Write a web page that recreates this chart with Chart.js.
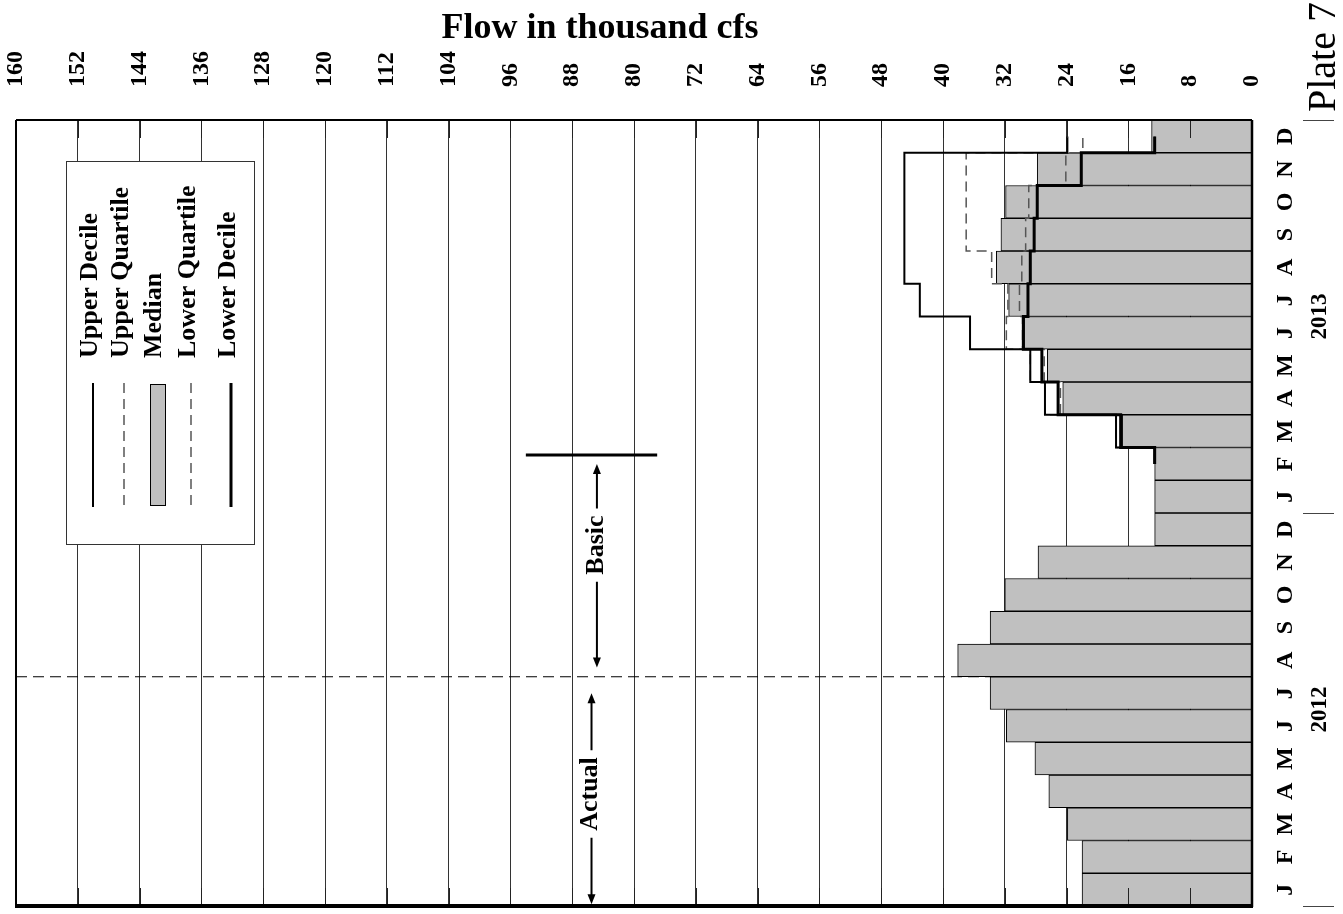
<!DOCTYPE html>
<html>
<head>
<meta charset="utf-8">
<title>Flow in thousand cfs</title>
<script src="https://cdn.jsdelivr.net/npm/chart.js@4.4.1/dist/chart.umd.min.js"></script>
<style>
  html, body { margin: 0; padding: 0; background: #fff; }
  #wrap { width: 1343px; height: 914px; position: relative; }
</style>
</head>
<body>
<div id="wrap"><canvas id="c" width="1343" height="914"></canvas></div>
<script>
// Months, January 2012 (bottom) to December 2013 (top)
const monthLabels = ['J','F','M','A','M','J','J','A','S','O','N','D',
                     'J','F','M','A','M','J','J','A','S','O','N','D'];
const yearLabels = ['2012', '2013'];
const flowTicks = [0, 8, 16, 24, 32, 40, 48, 56, 64, 72, 80, 88, 96, 104, 112, 120, 128, 136, 144, 152, 160];

// Monthly flow, thousand cfs: actual through July 2012, then the median-runoff (basic) simulation
const median = [22.0, 22.0, 23.9, 26.3, 28.1, 31.8, 33.9, 38.1, 33.9, 32.0, 27.7, 12.6,
                12.6, 12.6, 16.8, 24.5, 26.5, 29.5, 31.5, 33.1, 32.5, 31.9, 27.8, 13.0];

// Alternative runoff scenarios, February through December 2013
const scenarioStart = 13;
const upperDecile   = [12.6, 17.6, 26.8, 28.7, 36.5, 43.0, 45.0, 45.0, 45.0, 45.0, 23.9];
const upperQuartile = [12.6, 17.6, 26.8, 28.7, 31.8, 31.6, 33.7, 37.0, 37.0, 37.0, 21.9];
const lowerQuartile = [12.6, 17.0, 24.8, 26.9, 29.7, 30.1, 29.8, 29.3, 28.9, 24.1, 12.6];
const lowerDecile   = [12.6, 17.0, 25.1, 27.2, 29.6, 29.0, 28.7, 28.2, 27.8, 22.1, 12.6];

// Period markers (month index on the vertical axis, flow on the horizontal axis)
const actualEnd = 6.5;            // end of July 2012
const basicEnd = 13.27;           // end of the basic simulation
const basicEndSpan = [77, 94];    // extent of the end marker
const arrowFlow = { actual: 85.5, basic: 84.8 };
const actualArrow = { from: -0.45, to: 6.0, label: 2.92, text: 'Actual' };
const basicArrow  = { from: 6.78, to: 13.0, label: 10.52, text: 'Basic' };

// Scenario values hold for a whole month: build a stepped path from mid-February to mid-December
function stepPoints(vals) {
  const pts = [];
  vals.forEach((v, k) => {
    const i = scenarioStart + k;
    const y0 = k === 0 ? i : i - 0.5;
    const y1 = k === vals.length - 1 ? i : i + 0.5;
    pts.push({ x: v, y: y0 }, { x: v, y: y1 });
  });
  return pts;
}

const SERIF = '"Liberation Serif", "Times New Roman", serif';

function vText(ctx, text, x, y, size, align, bold) {
  ctx.save();
  ctx.translate(x, y);
  ctx.rotate(-Math.PI / 2);
  ctx.font = (bold ? 'bold ' : '') + size + 'px ' + SERIF;
  ctx.fillStyle = '#000';
  ctx.textAlign = align;
  ctx.textBaseline = 'middle';
  ctx.fillText(text, 0, 0);
  ctx.restore();
}

function arrowHead(ctx, x, y, dir) {
  // dir = -1 points up, +1 points down
  ctx.beginPath();
  ctx.moveTo(x, y);
  ctx.lineTo(x - 4, y - dir * 10);
  ctx.lineTo(x + 4, y - dir * 10);
  ctx.closePath();
  ctx.fill();
}

const decor = {
  id: 'decor',
  beforeDatasetsDraw(chart) {
    const { ctx, chartArea: a, scales: { y2 } } = chart;
    const yb = y2.getPixelForValue(actualEnd);
    ctx.save();
    ctx.strokeStyle = '#000';
    ctx.lineWidth = 1.2;
    ctx.setLineDash([11, 6]);
    ctx.beginPath();
    ctx.moveTo(a.left, yb);
    ctx.lineTo(a.right, yb);
    ctx.stroke();
    ctx.restore();
  },
  afterDatasetsDraw(chart) {
    const { ctx, chartArea: a, scales: { x, y, y2 } } = chart;
    ctx.save();

    // inner tick marks on the top and bottom edges
    ctx.strokeStyle = '#222';
    ctx.lineWidth = 1;
    flowTicks.forEach(v => {
      const px = Math.round(x.getPixelForValue(v)) + 0.5;
      ctx.beginPath();
      ctx.moveTo(px, a.top); ctx.lineTo(px, a.top + 18);
      ctx.moveTo(px, a.bottom - 18); ctx.lineTo(px, a.bottom);
      ctx.stroke();
    });

    // frame
    ctx.strokeStyle = '#000';
    ctx.lineWidth = 2;
    ctx.beginPath(); ctx.moveTo(a.left, a.top); ctx.lineTo(a.right, a.top); ctx.stroke();
    ctx.beginPath(); ctx.moveTo(a.left, a.top); ctx.lineTo(a.left, a.bottom); ctx.stroke();
    ctx.lineWidth = 2.5;
    ctx.beginPath(); ctx.moveTo(a.right, a.top); ctx.lineTo(a.right, a.bottom + 1); ctx.stroke();
    ctx.lineWidth = 4;
    ctx.beginPath(); ctx.moveTo(a.left - 1, a.bottom); ctx.lineTo(a.right + 1, a.bottom); ctx.stroke();

    // end of the basic simulation
    const ye = y2.getPixelForValue(basicEnd);
    ctx.lineWidth = 3;
    ctx.beginPath();
    ctx.moveTo(x.getPixelForValue(basicEndSpan[1]), ye);
    ctx.lineTo(x.getPixelForValue(basicEndSpan[0]), ye);
    ctx.stroke();

    // period arrows
    ctx.fillStyle = '#000';
    [[actualArrow, arrowFlow.actual], [basicArrow, arrowFlow.basic]].forEach(([ar, f]) => {
      const px = x.getPixelForValue(f);
      const yTop = y2.getPixelForValue(ar.to);
      const yBot = y2.getPixelForValue(ar.from);
      const yc = y2.getPixelForValue(ar.label);
      ctx.font = 'bold 26px ' + SERIF;
      const half = ctx.measureText(ar.text).width / 2 + 7;
      ctx.lineWidth = 2;
      ctx.beginPath();
      ctx.moveTo(px, yTop + 6); ctx.lineTo(px, yc - half);
      ctx.moveTo(px, yc + half); ctx.lineTo(px, yBot - 6);
      ctx.stroke();
      arrowHead(ctx, px, yTop, -1);
      arrowHead(ctx, px, yBot, 1);
      vText(ctx, ar.text, px - 1, yc, 26, 'center', true);
    });

    // legend
    const L = { left: 66, top: 161, right: 254, bottom: 544 };
    ctx.fillStyle = '#fff';
    ctx.fillRect(L.left, L.top, L.right - L.left, L.bottom - L.top);
    ctx.strokeStyle = '#333';
    ctx.lineWidth = 1;
    ctx.strokeRect(L.left + 0.5, L.top + 0.5, L.right - L.left, L.bottom - L.top);
    const legendOrder = ['Upper Decile', 'Upper Quartile', 'Median', 'Lower Quartile', 'Lower Decile'];
    const legendX = [93, 124, 157, 191, 231];
    legendOrder.forEach((name, k) => {
      const ds = chart.data.datasets.find(d => d.label === name);
      const lx = legendX[k];
      if (ds.type === 'bar') {
        ctx.fillStyle = ds.backgroundColor;
        ctx.fillRect(lx - 7, 384, 15, 121);
        ctx.strokeStyle = '#000';
        ctx.lineWidth = 1;
        ctx.strokeRect(lx - 7 + 0.5, 384.5, 15, 121);
      } else {
        ctx.strokeStyle = ds.borderColor;
        ctx.lineWidth = ds.borderWidth;
        ctx.setLineDash(ds.borderDash || []);
        ctx.beginPath();
        ctx.moveTo(lx, 383); ctx.lineTo(lx, 507);
        ctx.stroke();
        ctx.setLineDash([]);
      }
      vText(ctx, name, lx - 3, 358, 26, 'left', true);
    });

    // flow tick labels
    flowTicks.forEach(v => {
      vText(ctx, String(v), x.getPixelForValue(v), 87, 24, 'left', true);
    });

    // month and year labels
    monthLabels.forEach((m, i) => {
      vText(ctx, m, 1286, y.getPixelForValue(i), 24, 'center', true);
    });
    yearLabels.forEach((yr, k) => {
      vText(ctx, yr, 1320, y2.getPixelForValue(5.5 + 12 * k), 23, 'center', true);
    });
    ctx.strokeStyle = '#444';
    ctx.lineWidth = 1;
    [-0.5, 11.5, 23.5].forEach(v => {
      const py = Math.round(y2.getPixelForValue(v)) + 0.5;
      ctx.beginPath(); ctx.moveTo(1303, py); ctx.lineTo(1334, py); ctx.stroke();
    });

    // title and plate number
    ctx.fillStyle = '#000';
    ctx.font = 'bold 36px ' + SERIF;
    ctx.textAlign = 'center';
    ctx.textBaseline = 'alphabetic';
    ctx.fillText('Flow in thousand cfs', 600, 38);
    vText(ctx, 'Plate 7', 1324, 112, 40, 'left', false);

    ctx.restore();
  }
};

const lineDefaults = { type: 'line', yAxisID: 'y2', xAxisID: 'x', pointRadius: 0, fill: false, tension: 0 };

new Chart(document.getElementById('c').getContext('2d'), {
  type: 'bar',
  data: {
    labels: monthLabels,
    datasets: [
      Object.assign({}, lineDefaults, { label: 'Upper Decile', data: stepPoints(upperDecile),
        borderColor: '#000', borderWidth: 2, order: 2 }),
      Object.assign({}, lineDefaults, { label: 'Upper Quartile', data: stepPoints(upperQuartile),
        borderColor: '#555', borderWidth: 1.5, borderDash: [10, 6], order: 3 }),
      Object.assign({}, lineDefaults, { label: 'Lower Quartile', data: stepPoints(lowerQuartile),
        borderColor: '#555', borderWidth: 1.5, borderDash: [10, 6], order: 4 }),
      Object.assign({}, lineDefaults, { label: 'Lower Decile', data: stepPoints(lowerDecile),
        borderColor: '#000', borderWidth: 3, order: 1 }),
      { type: 'bar', label: 'Median', data: median, xAxisID: 'x', yAxisID: 'y',
        backgroundColor: '#c0c0c0', borderColor: '#000', borderWidth: 1,
        grouped: false, barPercentage: 1, categoryPercentage: 1, order: 10 }
    ]
  },
  options: {
    indexAxis: 'y',
    responsive: false,
    animation: false,
    events: [],
    layout: { padding: { left: 16, right: 91, top: 120, bottom: 8 } },
    plugins: { legend: { display: false }, tooltip: { enabled: false }, title: { display: false } },
    scales: {
      x: {
        type: 'linear', min: 0, max: 160, reverse: true, position: 'top',
        ticks: { display: false, stepSize: 8 },
        grid: { color: '#333', lineWidth: 1, drawTicks: false },
        border: { display: false },
        afterFit(s) { s.height = 0; }
      },
      y: { type: 'category', reverse: true, offset: true, display: false },
      y2: { type: 'linear', min: -0.5, max: 23.5, offset: false, grid: { offset: false }, display: false }
    }
  },
  plugins: [decor]
});
</script>
</body>
</html>
